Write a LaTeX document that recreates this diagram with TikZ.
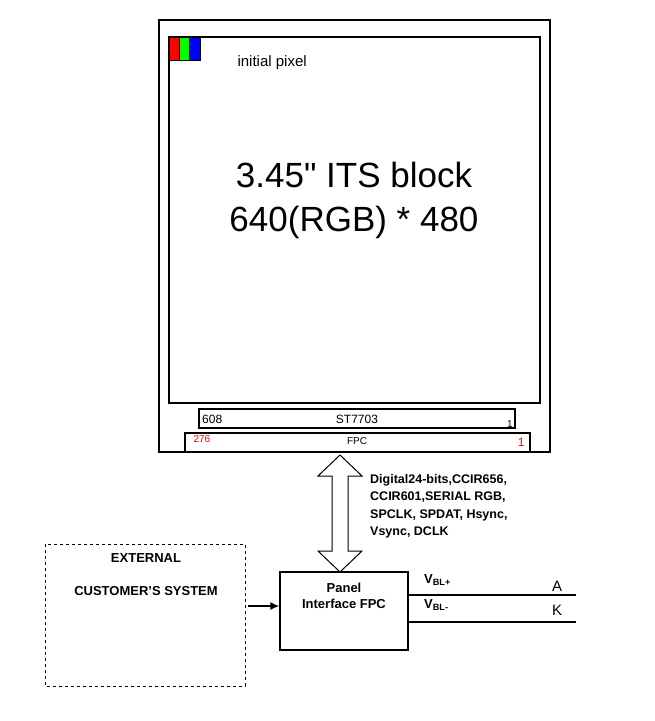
\documentclass[tikz,border=0pt]{standalone}
\usepackage{fontspec}
\setmainfont{Liberation Sans}
\newfontfamily\plainfont{Liberation Sans}[Ligatures=ResetAll]
\usetikzlibrary{arrows.meta,positioning}
\begin{document}
\begin{tikzpicture}[x=1pt,y=-1pt,
        box/.style={draw=black, line width=1.4pt},
        lbl/.style={inner sep=0pt, font=\fontsize{13}{15}\selectfont\bfseries, align=center},
        sig/.style={inner sep=0pt, font=\fontsize{12.5}{17.5}\selectfont\bfseries, align=left}]
        \useasboundingbox (0,0) rectangle (654,721);
        % panel
        \draw[box] (159,20) rectangle (550,452);
        \draw[box] (169,37) rectangle (540,403);
        \fill[red] (169,37) rectangle (179.3,60);
        \fill[green] (179.3,37) rectangle (189.6,60);
        \fill[blue] (189.6,37) rectangle (200,60);
        \draw[line width=1pt] (169,37) rectangle (200,60)
            (179.3,37) -- (179.3,60) (189.6,37) -- (189.6,60);
        \node[anchor=west, font=\fontsize{15}{17}\selectfont] (init) at (234,63) {initial pixel};
        \node[align=center, font=\plainfont\fontsize{35}{44}\selectfont] (title) at (354,200)
            {3.45" ITS block\\640(RGB) * 480};
        % driver and FPC
        \draw[box] (199,409) rectangle (515,428);
        \node[font=\fontsize{12}{14}\selectfont] (ic) at (357,419) {ST7703};
        \node[anchor=west, inner sep=1pt, font=\fontsize{12}{14}\selectfont] at (201,419) {608};
        \node[anchor=south east, inner sep=1pt, font=\fontsize{10}{12}\selectfont] at (514,429) {1};
        \draw[box] (185,433) rectangle (530,452);
        \node[font=\fontsize{10}{12}\selectfont] (fpc) at (357,441) {FPC};
        \node[anchor=west, text=red, font=\fontsize{10}{12}\selectfont] at (190,439) {276};
        \node[anchor=east, text=red, font=\fontsize{12}{14}\selectfont] at (528,442) {1};
        % hollow double arrow
        \draw[line width=1pt] (340,455) -- (362,476) -- (348,476) -- (348,551) -- (362,551)
            -- (340,572) -- (318,551) -- (332,551) -- (332,476) -- (318,476) -- cycle;
        \node[sig, anchor=north west] (bus) at (370,474)
            {Digital24-bits,CCIR656,\\CCIR601,SERIAL RGB,\\SPCLK, SPDAT, Hsync,\\Vsync, DCLK};
        % customer system
        \draw[line width=1pt, dashed] (45,544) rectangle (245,686);
        \node[lbl] (ext) at (146,558) {EXTERNAL};
        \node[lbl] (cust) at (146,591) {CUSTOMER'S SYSTEM};
        \node[box, minimum width=128pt, minimum height=78pt, inner sep=0pt] (pif) at (344,611) {};
        \node[lbl] at (344,596) {Panel\\[1pt]Interface FPC};
        \coordinate (src) at (248,606);
        \draw[-{Latex[length=9pt,width=8pt]}, line width=1.5pt] (src) -- (pif.west |- src);
        % backlight
        \coordinate (ap) at (576,595);
        \coordinate (kp) at (576,622);
        \draw[line width=1.2pt] (pif.east |- ap) -- (ap);
        \draw[line width=1.2pt] (pif.east |- kp) -- (kp);
        \node[anchor=west, inner sep=0pt, font=\fontsize{13}{15}\selectfont\bfseries] at (424,580) {V\textsubscript{BL+}};
        \node[anchor=west, inner sep=0pt, font=\fontsize{13}{15}\selectfont\bfseries] at (424,605) {V\textsubscript{BL-}};
        \node[font=\fontsize{15}{17}\selectfont] at (557,586) {A};
        \node[font=\fontsize{15}{17}\selectfont] at (557,610) {K};
\end{tikzpicture}
\end{document}
